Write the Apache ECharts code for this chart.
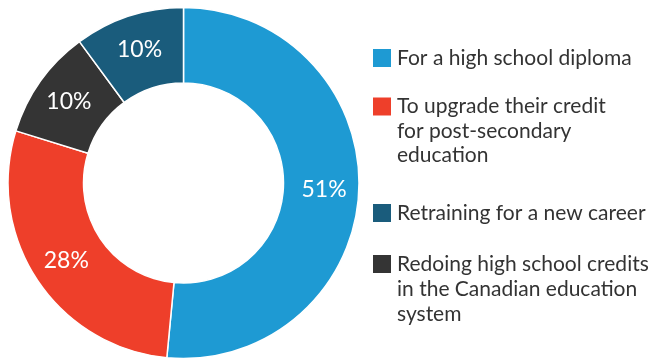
<!DOCTYPE html>
<html>
<head>
<meta charset="utf-8">
<script src="https://cdn.jsdelivr.net/npm/echarts@6/dist/echarts.min.js"></script>
<style>html,body{margin:0;padding:0;background:#fff;}#c{width:649px;height:358px;}</style>
</head>
<body>
<div id="c"></div>
<script>
const categories = [
  "For a high school diploma",
  "To upgrade their credit\nfor post-secondary\neducation",
  "Redoing high school credits\nin the Canadian education\nsystem",
  "Retraining for a new career"
];
const values = [51, 28, 10, 10];
const colors = ["#1E9AD3", "#EE3F2A", "#343434", "#1A5C7C"];

const chart = echarts.init(document.getElementById('c'));
const FONT = 'Lato, "Noto Sans", sans-serif';

function mkLegend(name, iconTop, lines, lh) {
  const total = 2 * lines - 1;
  return {
    data: [name],
    left: 371,
    top: iconTop + 10 - total * lh / 2,
    padding: 0,
    orient: 'vertical',
    icon: 'rect',
    itemWidth: 20,
    itemHeight: 20,
    selectedMode: false,
    formatter: function (n) { return '\n'.repeat(lines - 1) + n; },
    textStyle: {
      fontFamily: FONT,
      fontSize: 21,
      color: '#333333',
      lineHeight: lh
    }
  };
}

chart.setOption({
  animation: false,
  color: colors,
  legend: [
    mkLegend(categories[0], 48, 1, 24),
    mkLegend(categories[1], 96.5, 3, 24.5),
    mkLegend(categories[3], 203, 1, 24),
    mkLegend(categories[2], 254, 3, 25)
  ],
  series: [{
    type: 'pie',
    center: [183.5, 183],
    radius: [100, 175.5],
    startAngle: 90,
    clockwise: true,
    avoidLabelOverlap: false,
    itemStyle: { borderColor: '#ffffff', borderWidth: 1.5 },
    label: {
      show: true,
      position: 'inside',
      formatter: '{c}%',
      color: '#ffffff',
      fontFamily: FONT,
      fontSize: 23
    },
    labelLine: { show: false },
    emphasis: { disabled: true },
    data: categories.map((n, i) => ({ name: n, value: values[i] }))
  }]
});
</script>
</body>
</html>
